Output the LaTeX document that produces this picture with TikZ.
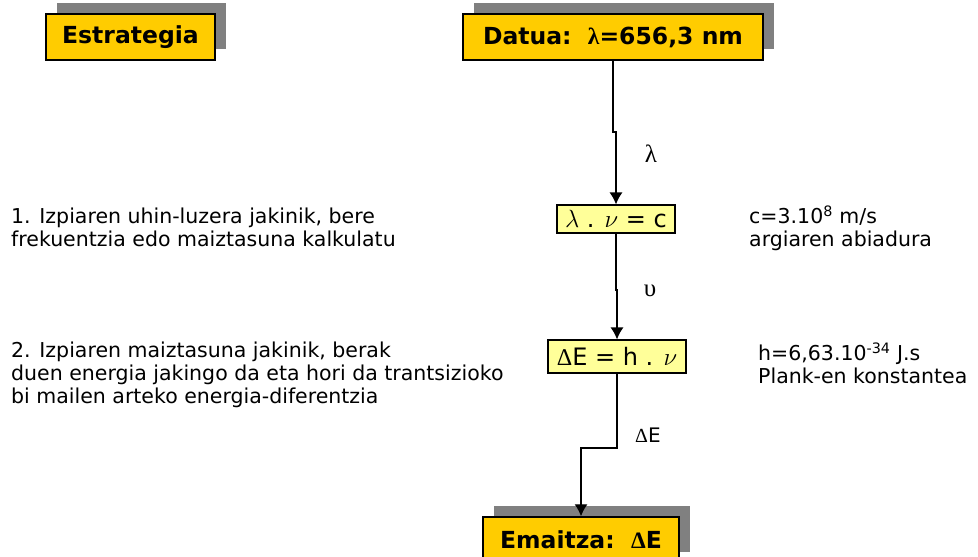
\documentclass[tikz,border=0pt]{standalone}
\usepackage{fontspec}
\setmainfont{DejaVu Sans}
\newfontfamily\grk{Liberation Serif}
\usetikzlibrary{shadows,arrows.meta}
\definecolor{boxor}{HTML}{FFCC00}
\definecolor{boxly}{HTML}{FFFF99}
\definecolor{shadowgray}{HTML}{808080}
\begin{document}
\begin{tikzpicture}[x=1pt,y=-1pt,
  bigbox/.style={draw=black,line width=1.5pt,fill=boxor,minimum height=46pt,inner sep=0pt,
    font=\fontsize{23.5}{26}\selectfont\bfseries,
    drop shadow={shadow xshift=11pt,shadow yshift=11pt,fill=shadowgray,opacity=1}},
  eqbox/.style={draw=black,line width=1.2pt,fill=boxly,inner sep=0pt,font=\fontsize{24}{26}\selectfont},
  txt/.style={font=\fontsize{20.5}{23}\selectfont,align=left,inner sep=0pt,anchor=west},
  lbl/.style={font=\fontsize{20}{22}\selectfont,inner sep=0pt},
  glbl/.style={font=\fontsize{25}{27}\selectfont\grk,inner sep=0pt},
  arr/.style={-{Latex[length=12pt,width=13pt]},line width=1.2pt}]
\useasboundingbox (0,0) rectangle (978,557);
\node[bigbox,minimum width=169pt] (estr) at (130.5,37) {Estrategia};
\node[bigbox,minimum width=300pt] (datua) at (613,37) {Datua:\ \ {\grk\bfseries λ}=656,3 nm};
\node[eqbox,minimum width=118pt,minimum height=28pt] (lam) at (616,219) {$\lambda$ . $\nu$ = c};
\node[eqbox,minimum width=138pt,minimum height=33pt] (de) at (617,356.5) {{\grk Δ}E = h . $\nu$};
\node[bigbox,minimum width=196pt] (ema) at (581,540) {Emaitza:\ \ {\grk\bfseries Δ}E};
\coordinate (j1) at (0,132);
\coordinate (j2) at (0,290);
\coordinate (j3) at (0,448);
\draw[arr] (datua.south) -- (datua.south |- j1) -| (lam.north);
\draw[arr] (lam.south) -- (lam.south |- j2) -| (de.north);
\draw[arr] (de.south) -- (de.south |- j3) -| (ema.north);
\node[glbl] (l1) at (651,154) {λ};
\node[glbl] (l2) at (650,291) {υ};
\node[lbl,anchor=west] (l3) at (635,435) {{\grk Δ}E};
\node[txt] (t1) at (11,227.5) {1. Izpiaren uhin-luzera jakinik, bere\\frekuentzia edo maiztasuna kalkulatu};
\node[txt] (t2) at (11,375) {2. Izpiaren maiztasuna jakinik, berak\\duen energia jakingo da eta hori da trantsizioko\\bi mailen arteko energia-diferentzia};
\node[txt] (t3) at (749,228.5) {c=3.10\textsuperscript{8} m/s\\argiaren abiadura};
\node[txt] (t4) at (758,363.5) {h=6,63.10\textsuperscript{-34} J.s\\Plank-en konstantea};
\end{tikzpicture}
\end{document}
